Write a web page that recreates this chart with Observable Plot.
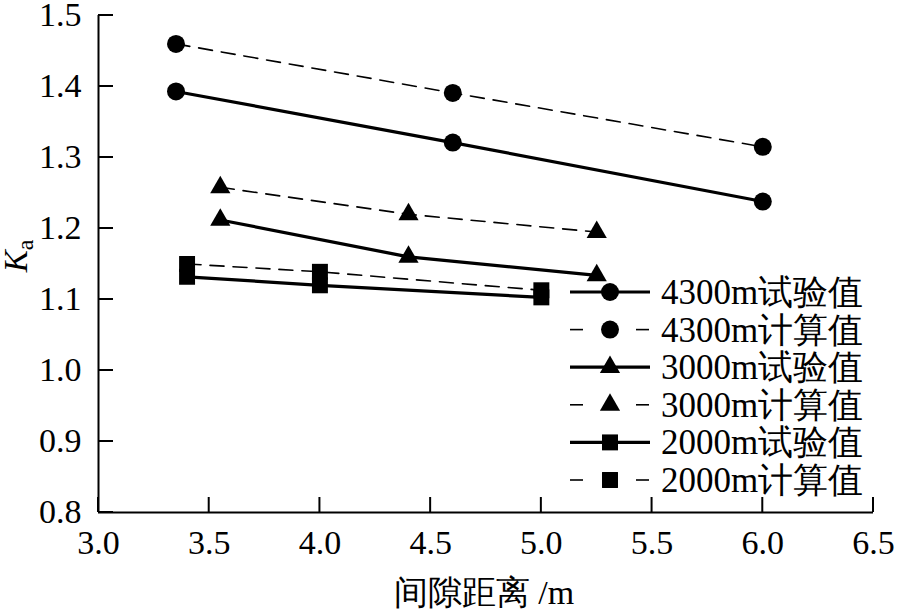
<!DOCTYPE html>
<html><head><meta charset="utf-8">
<script src="https://cdn.jsdelivr.net/npm/d3@7"></script>
<script src="https://cdn.jsdelivr.net/npm/@observablehq/plot@0.6"></script>
<style>body{margin:0;background:#fff}</style>
</head><body><div id="chart"></div>
<script>
// ---- data ----
const xDomain = [3.0, 6.5];
const yDomain = [0.8, 1.5];
const xTicks = [3.0, 3.5, 4.0, 4.5, 5.0, 5.5, 6.0, 6.5];
const yTicks = [0.8, 0.9, 1.0, 1.1, 1.2, 1.3, 1.4, 1.5];

const x4300 = [3.35, 4.6, 6.0];
const exp4300 = [1.393, 1.321, 1.238];
const calc4300 = [1.460, 1.391, 1.315];

const x3000 = [3.55, 4.4, 5.25];
const exp3000 = [1.212, 1.160, 1.134];
const calc3000 = [1.258, 1.220, 1.195];

const x2000 = [3.4, 4.0, 5.0];
const exp2000 = [1.132, 1.120, 1.103];
const calc2000 = [1.150, 1.139, 1.113];

const seriesNames = ["4300m试验值", "4300m计算值", "3000m试验值", "3000m计算值", "2000m试验值", "2000m计算值"];
const xLabel = "间隙距离 /m";

// ---- build table ----
const defs = [
  {name: seriesNames[0], xs: x4300, ys: exp4300, dashed: false, symbol: "circle"},
  {name: seriesNames[1], xs: x4300, ys: calc4300, dashed: true, symbol: "circle"},
  {name: seriesNames[2], xs: x3000, ys: exp3000, dashed: false, symbol: "triangle"},
  {name: seriesNames[3], xs: x3000, ys: calc3000, dashed: true, symbol: "triangle"},
  {name: seriesNames[4], xs: x2000, ys: exp2000, dashed: false, symbol: "square"},
  {name: seriesNames[5], xs: x2000, ys: calc2000, dashed: true, symbol: "square"}
];
const rSym = {circle: 9, triangle: 7.5, square: 9};

const lineMarks = [];
const dotMarks = [];
for (const d of defs) {
  const rows = d.xs.map((x, i) => ({x, y: d.ys[i], s: d.name}));
  lineMarks.push(Plot.line(rows, {
    x: "x", y: "y", stroke: "#000",
    strokeWidth: d.dashed ? 1.6 : 3.2,
    strokeDasharray: d.dashed ? "14,9" : null
  }));
  dotMarks.push(Plot.dot(rows, {x: "x", y: "y", fill: "#000", stroke: "none", symbol: d.symbol, r: rSym[d.symbol]}));
}

const font = "Liberation Serif, Times New Roman, Times, serif";

const chart = Plot.plot({
  width: 897, height: 613,
  marginLeft: 98, marginRight: 24, marginTop: 15, marginBottom: 101,
  style: {fontFamily: font, fontSize: "34px", color: "#000", background: "#fff", overflow: "visible"},
  x: {domain: xDomain},
  y: {domain: yDomain},
  marks: [
    Plot.axisX(xTicks, {tickSize: 0, tickPadding: 17, tickFormat: d3.format(".1f"), label: null}),
    Plot.axisY(yTicks, {tickSize: 0, tickPadding: 17, tickFormat: d3.format(".1f"), label: null}),
    Plot.ruleX([xDomain[0]], {strokeWidth: 2}),
    Plot.ruleY([yDomain[0]], {strokeWidth: 2}),
    ...lineMarks,
    ...dotMarks
  ]
});
document.getElementById("chart").appendChild(chart);

const svg = d3.select(chart);
const sx = chart.scale("x"), sy = chart.scale("y");
const x0 = sx.apply(xDomain[0]), y0 = sy.apply(yDomain[0]);

// inward tick marks, positioned through the plot's own scales
const tg = svg.append("g").attr("stroke", "#000").attr("stroke-width", 2);
xTicks.forEach(v => {
  const px = sx.apply(v);
  tg.append("line").attr("x1", px).attr("x2", px).attr("y1", y0).attr("y2", y0 - 15);
});
yTicks.forEach(v => {
  const py = sy.apply(v);
  tg.append("line").attr("x1", x0).attr("x2", x0 + 15).attr("y1", py).attr("y2", py);
});

// x axis label
svg.append("text").attr("x", 484).attr("y", 604).attr("text-anchor", "middle")
  .attr("font-family", font).attr("font-size", 34).attr("fill", "#000").text(xLabel);

// y axis label K_a
const yl = svg.append("text").attr("transform", "translate(27,256) rotate(-90)")
  .attr("text-anchor", "middle").attr("font-family", font).attr("font-size", 33).attr("fill", "#000");
yl.append("tspan").attr("font-style", "italic").text("K");
yl.append("tspan").attr("font-size", 24).attr("dy", 6).text("a");

// legend
const lg = svg.append("g");
const rowY0 = 292, rowStep = 37.6;
const symbolGen = {circle: d3.symbolCircle, triangle: d3.symbolTriangle, square: d3.symbolSquare};
defs.forEach((d, i) => {
  const cy = rowY0 + i * rowStep;
  if (d.dashed) {
    lg.append("line").attr("x1", 570).attr("x2", 583).attr("y1", cy).attr("y2", cy).attr("stroke", "#000").attr("stroke-width", 1.6);
    lg.append("line").attr("x1", 636).attr("x2", 649).attr("y1", cy).attr("y2", cy).attr("stroke", "#000").attr("stroke-width", 1.6);
  } else {
    lg.append("line").attr("x1", 570).attr("x2", 650).attr("y1", cy).attr("y2", cy).attr("stroke", "#000").attr("stroke-width", 3.2);
  }
  const r = rSym[d.symbol];
  lg.append("path").attr("transform", `translate(610,${cy})`)
    .attr("d", d3.symbol(symbolGen[d.symbol], r * r * Math.PI)()).attr("fill", "#000");
  lg.append("text").attr("x", 661).attr("y", cy + 12).attr("text-anchor", "start")
    .attr("font-family", font).attr("font-size", 35)
    .attr("fill", "#000").text(d.name);
});
</script>
</body></html>
